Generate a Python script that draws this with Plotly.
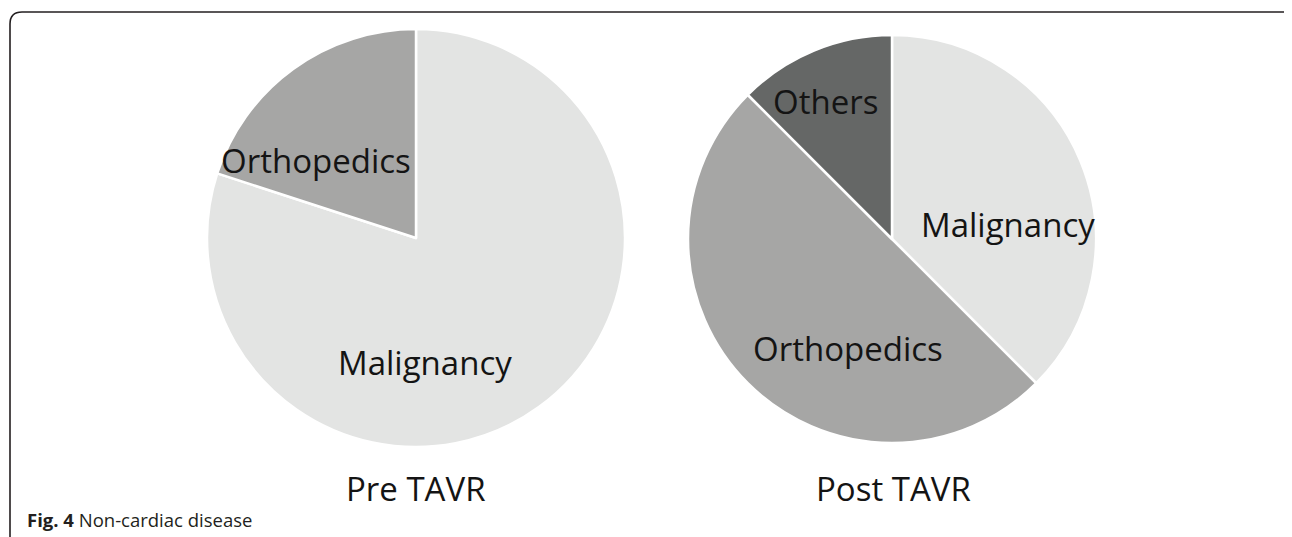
import plotly.graph_objects as go

# ---- data ----
pre_labels = ["Malignancy", "Orthopedics"]
pre_values = [4, 1]
post_labels = ["Malignancy", "Orthopedics", "Others"]
post_values = [3, 4, 1]
panel_titles = ["Pre TAVR", "Post TAVR"]
caption_bold = "Fig. 4"
caption_text = "Non-cardiac disease"

color_map = {"Malignancy": "#e3e4e3", "Orthopedics": "#a6a6a5", "Others": "#656766"}

# page body has an 8px margin; size the figure so it ends exactly at the window edge
OFF = 8
W, H = 1292 - OFF, 537 - OFF

def px_x(x):
    return (x - OFF) / W

def px_y(y):
    return 1 - (y - OFF) / H

def dom(cx, cy, r):
    return dict(x=[px_x(cx - r), px_x(cx + r)], y=[px_y(cy + r), px_y(cy - r)])

fig = go.Figure()
fig.add_trace(go.Pie(
    labels=pre_labels, values=pre_values, sort=False, direction="clockwise", rotation=0,
    marker=dict(colors=[color_map[l] for l in pre_labels], line=dict(color="white", width=2.5)),
    textinfo="none", hoverinfo="label+value", domain=dom(416, 238, 209), showlegend=False,
))
fig.add_trace(go.Pie(
    labels=post_labels, values=post_values, sort=False, direction="clockwise", rotation=0,
    marker=dict(colors=[color_map[l] for l in post_labels], line=dict(color="white", width=2.5)),
    textinfo="none", hoverinfo="label+value", domain=dom(892, 239, 204), showlegend=False,
))

label_font = dict(family="Open Sans", size=33, color="#141414")
# slice labels (pixel positions of text centres)
slice_labels = [
    ("Orthopedics", 316, 160),
    ("Malignancy", 425, 362),
    ("Others", 825, 101),
    ("Malignancy", 1008, 225),
    ("Orthopedics", 848, 348),
]
annotations = []
for txt, x, y in slice_labels:
    annotations.append(dict(text=txt, x=px_x(x), y=px_y(y), xref="paper", yref="paper",
                            showarrow=False, xanchor="center", yanchor="middle", font=label_font))
for txt, x in zip(panel_titles, [416, 893]):
    annotations.append(dict(text=txt, x=px_x(x), y=px_y(488), xref="paper", yref="paper",
                            showarrow=False, xanchor="center", yanchor="middle",
                            font=dict(family="Open Sans", size=33, color="#141414")))
annotations.append(dict(text=f"<b>{caption_bold}</b> {caption_text}", x=px_x(25), y=px_y(519),
                        xref="paper", yref="paper", showarrow=False, xanchor="left", yanchor="middle",
                        font=dict(family="Open Sans", size=18.5, color="#231f20")))

# rounded frame
L, T, R, B, rad = 10, 12, 1297, 560, 12
path = (f"M {px_x(L)},{px_y(B)} L {px_x(L)},{px_y(T + rad)} "
        f"Q {px_x(L)},{px_y(T)} {px_x(L + rad)},{px_y(T)} "
        f"L {px_x(R - rad)},{px_y(T)} Q {px_x(R)},{px_y(T)} {px_x(R)},{px_y(T + rad)} "
        f"L {px_x(R)},{px_y(B)}")

fig.update_layout(
    width=W, height=H,
    margin=dict(l=0, r=0, t=0, b=0),
    paper_bgcolor="white", plot_bgcolor="white",
    annotations=annotations,
    shapes=[dict(type="path", path=path, xref="paper", yref="paper",
                 line=dict(color="#231f20", width=1.6))],
)

fig.write_html("out.html")
